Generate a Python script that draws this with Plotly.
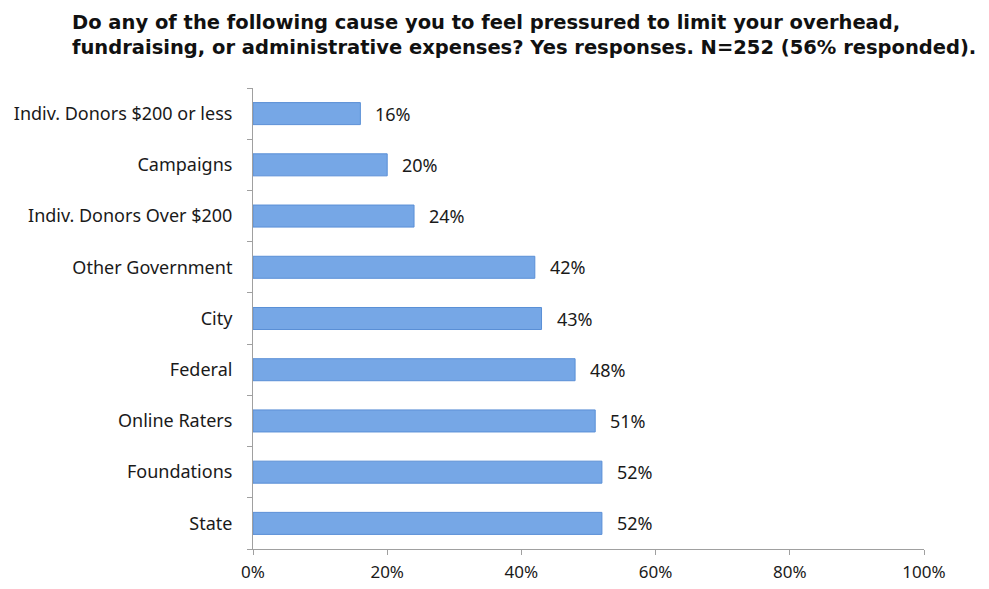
import plotly.graph_objects as go

categories = ["State", "Foundations", "Online Raters", "Federal", "City",
              "Other Government", "Indiv. Donors Over $200", "Campaigns",
              "Indiv. Donors $200 or less"]
values = [52, 52, 51, 48, 43, 42, 24, 20, 16]
x_ticks = [0, 20, 40, 60, 80, 100]
x_tick_labels = ["0%", "20%", "40%", "60%", "80%", "100%"]
title_lines = ["Do any of the following cause you to feel pressured to limit your overhead,",
               "fundraising, or administrative expenses? Yes responses. N=252 (56% responded)."]

font_lbl = "Noto Sans, Liberation Sans, sans-serif"

fig = go.Figure()
fig.add_trace(go.Bar(
    y=categories, x=values, orientation="h",
    width=0.43,
    marker=dict(color="#76a7e6", line=dict(color="#5a8fd6", width=1)),
    hoverinfo="skip",
))

for c, v in zip(categories, values):
    fig.add_annotation(x=v, y=c, text=f"{v}%", showarrow=False,
                       xanchor="left", xshift=13,
                       font=dict(family=font_lbl, size=18, color="#1a1a1a"))

fig.add_annotation(
    xref="paper", yref="paper", x=-183/671, y=1 + 80/464,
    xanchor="left", yanchor="top", align="left", showarrow=False,
    text="<b>" + "<br>".join(title_lines) + "</b>",
    font=dict(family="DejaVu Sans, Liberation Sans, sans-serif", size=19.5, color="#111"),
)

fig.update_layout(
    width=989, height=589,
    margin=dict(l=253, r=65, t=88, b=40),
    plot_bgcolor="white", paper_bgcolor="white",
    showlegend=False,
    xaxis=dict(
        range=[0, 100], tickvals=x_ticks, ticktext=x_tick_labels,
        showgrid=False, zeroline=False, showline=True, linecolor="#a0a0a0",
        ticks="outside", ticklen=5, tickcolor="#a0a0a0",
        ticklabelstandoff=3, automargin=False,
        tickfont=dict(family=font_lbl, size=17, color="#1a1a1a"),
    ),
    yaxis=dict(
        showgrid=False, zeroline=False, showline=True, linecolor="#a0a0a0",
        ticks="outside", ticklen=5, tickcolor="#a0a0a0", tickson="boundaries",
        ticklabelstandoff=16, automargin=False,
        tickfont=dict(family=font_lbl, size=18, color="#1a1a1a"),
    ),
)

fig.write_html("out.html")
